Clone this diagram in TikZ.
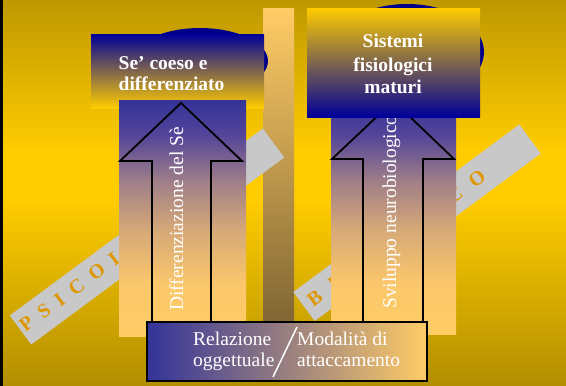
\documentclass[tikz,border=0pt]{standalone}
\usepackage{fontspec}
\setmainfont{Liberation Serif}
\definecolor{bgdark}{RGB}{190,152,0}
\definecolor{bgyel}{RGB}{255,204,0}
\definecolor{bgbot}{RGB}{178,142,0}
\definecolor{navy}{RGB}{0,0,153}
\definecolor{blobnavy}{RGB}{0,0,140}
\definecolor{mauve}{RGB}{165,130,135}
\definecolor{colblue}{RGB}{51,51,153}
\definecolor{peach}{RGB}{255,204,102}
\definecolor{barbot}{RGB}{125,100,50}
\definecolor{bandgrey}{RGB}{200,200,200}
\definecolor{bandtxt}{RGB}{224,150,0}
\pgfdeclareverticalshading{colgrad}{100bp}{%
  rgb(0bp)=(1,0.8,0.4); rgb(25bp)=(1,0.8,0.4); rgb(36bp)=(0.98,0.78,0.42);
  rgb(47.5bp)=(0.84,0.66,0.47); rgb(57.5bp)=(0.63,0.5,0.53);
  rgb(67.5bp)=(0.33,0.27,0.6); rgb(75bp)=(0.2,0.2,0.6); rgb(100bp)=(0.2,0.2,0.6)}
\newcommand\lspA{\hspace{0.5em}}
\newcommand\lspB{\hspace{0.62em}}
\tikzset{
  whitetext/.style={text=white, inner sep=0pt, font=\fontsize{19.5}{22}\selectfont},
  boldtext/.style={whitetext, font=\fontsize{19.5}{22}\selectfont\bfseries},
  bandtext/.style={text=bandtxt, inner sep=0pt, font=\fontsize{20}{22}\selectfont\bfseries, rotate=36.46, anchor=base west},
  arrowline/.style={draw=black, line width=1.8pt, line join=miter},
  colshade/.style={shading=colgrad},
}
\begin{document}
\begin{tikzpicture}[x=1pt, y=-1pt]
\useasboundingbox (0,0) rectangle (566,386);
% background
\shade[top color=bgdark, bottom color=bgyel] (0,0) rectangle (566,151);
\fill[bgyel] (0,150) rectangle (566,201);
\shade[top color=bgyel, bottom color=bgbot] (0,200) rectangle (566,386);
\fill[black] (0,0) rectangle (3,386);
% middle bar
\shade[top color=peach, bottom color=barbot] (263,8) rectangle (294,330);
% grey bands
\fill[bandgrey] (9.8,315.5) -- (262.8,128.5) -- (284.2,157.5) -- (31.2,344.5) -- cycle;
\node[bandtext] (psico) at (25.3,332.9) {P\lspA S\lspA I\lspA C\lspA O\lspA L};
\fill[bandgrey] (293.3,292) -- (519.3,124.5) -- (540.7,153.5) -- (314.7,321) -- cycle;
\node[bandtext] (bio) at (313.2,307.3) {B\lspB I};
\node[bandtext] (co) at (452.8,204.5) {C\lspB O};
% navy blobs
\fill[blobnavy] (200,61) ellipse [x radius=68pt, y radius=33pt];
\fill[blobnavy] (407,52) ellipse [x radius=77pt, y radius=48pt];
% left box
\shade[top color=navy, middle color=mauve, bottom color=bgyel] (91,34) rectangle (264,108);
\node[boldtext, anchor=base west] (se1) at (118.5,69) {Se’ coeso e};
\node[boldtext, anchor=base west] (se2) at (118.5,90.5) {differenziato};
% left column and arrow
\shade[colshade] (119,100) rectangle (246,336);
\draw[arrowline] (152,323) -- (152,161) -- (120,161) -- (181,103) -- (242,161) -- (211,161) -- (211,323);
\node[whitetext, rotate=90, anchor=base] (diff) at (183,219) {Differenziazione del Sè};
% right column and arrow
\shade[colshade] (331,100) rectangle (456,334);
\draw[arrowline] (363,323) -- (363,159) -- (332,159) -- (393.5,101) -- (454,159) -- (423,159) -- (423,323);
\node[whitetext, rotate=90, anchor=base] (svil) at (396,212) {Sviluppo neurobiologico};
% right box
\shade[top color=bgyel, middle color=mauve, bottom color=navy] (307,8) rectangle (480,117);
\node[boldtext, anchor=base] (si1) at (393,47) {Sistemi};
\node[boldtext, anchor=base] (si2) at (393,71) {fisiologici};
\node[boldtext, anchor=base] (si3) at (393,93) {maturi};
% bottom box
\shade[left color=colblue, middle color=mauve, right color=peach] (147,322) rectangle (427,380.5);
\draw[black, line width=2pt] (147,322) rectangle (427,380.5);
\node[whitetext, anchor=base west] (rel1) at (193,345.7) {Relazione};
\node[whitetext, anchor=base west] (rel2) at (193,366.7) {oggettuale};
\node[whitetext, anchor=base west] (mod1) at (297,345.7) {Modalità di};
\node[whitetext, anchor=base west] (mod2) at (297,366.7) {attaccamento};
\draw[white, line width=1.5pt] (297,327) -- (273,377);
\end{tikzpicture}
\end{document}
